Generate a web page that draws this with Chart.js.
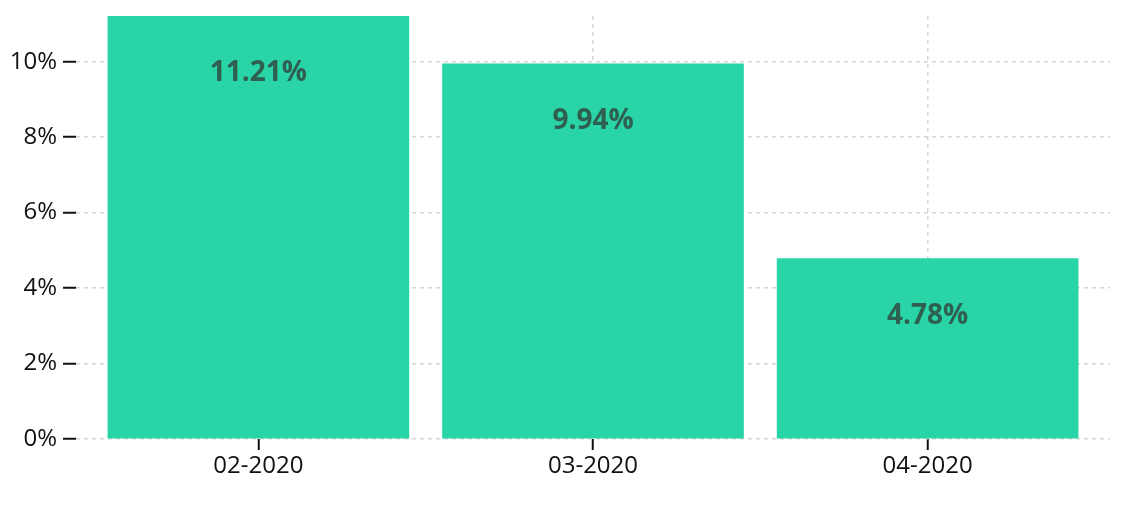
<!DOCTYPE html>
<html>
<head>
<meta charset="utf-8">
<script src="https://cdn.jsdelivr.net/npm/chart.js@4.4.1/dist/chart.umd.min.js"></script>
<style>
  html, body { margin: 0; padding: 0; background: #fff; }
  #wrap { width: 1138px; height: 520px; }
</style>
</head>
<body>
<div id="wrap"><canvas id="growthChart" width="1138" height="520"></canvas></div>
<script>
// data
const categories = ["02-2020", "03-2020", "04-2020"];
const values = [11.21, 9.94, 4.78];
const yTicks = [0, 2, 4, 6, 8, 10];

const BAR_COLOR = "#29d4a6";
const LABEL_COLOR = "#2f5f51";
const GRID_COLOR = "#d6d6d6";

// values printed inside each bar, a bit below its top
const barLabels = {
  id: "barLabels",
  afterDatasetsDraw(chart) {
    const ctx = chart.ctx;
    const meta = chart.getDatasetMeta(0);
    ctx.save();
    ctx.font = "bold 28px 'Open Sans'";
    ctx.fillStyle = LABEL_COLOR;
    ctx.textAlign = "center";
    ctx.textBaseline = "middle";
    meta.data.forEach((bar, i) => {
      ctx.fillText(values[i].toFixed(2) + "%", bar.x, bar.y + 57);
    });
    ctx.restore();
  }
};

const ctx = document.getElementById("growthChart").getContext("2d");
new Chart(ctx, {
  type: "bar",
  data: {
    datasets: [{
      data: values.map((v, i) => ({ x: i, y: v })),
      backgroundColor: BAR_COLOR,
      barThickness: 301,
      borderWidth: 0
    }]
  },
  options: {
    responsive: false,
    animation: false,
    layout: { padding: { top: 16, right: 28, left: 0, bottom: 0 } },
    plugins: { legend: { display: false }, tooltip: { enabled: false } },
    scales: {
      x: {
        type: "linear",
        offset: false,
        min: -0.545,
        max: 2.545,
        afterBuildTicks: axis => { axis.ticks = categories.map((c, i) => ({ value: i })); },
        afterFit: axis => { axis.height = 81; axis.paddingLeft = 0; axis.paddingRight = 0; },
        ticks: {
          callback: v => categories[v],
          color: "#111",
          font: { family: "'Open Sans'", size: 24 },
          padding: 2
        },
        grid: {
          color: GRID_COLOR,
          lineWidth: 1.5,
          tickColor: "#111",
          tickLength: 11,
          tickWidth: 2,
          tickBorderDash: [],
          offset: false
        },
        border: { display: false, dash: [4, 4] }
      },
      y: {
        min: 0,
        max: 11.21,
        afterBuildTicks: axis => { axis.ticks = yTicks.map(v => ({ value: v })); },
        afterFit: axis => { axis.width = 76; axis.paddingTop = 0; axis.paddingBottom = 0; },
        ticks: {
          callback: v => v + "%",
          color: "#111",
          font: { family: "'Open Sans'", size: 24 },
          padding: 6
        },
        grid: {
          color: GRID_COLOR,
          lineWidth: 1.5,
          tickColor: "#111",
          tickLength: 13,
          tickWidth: 2,
          tickBorderDash: []
        },
        border: { display: false, dash: [4, 4] }
      }
    }
  },
  plugins: [barLabels]
});
</script>
</body>
</html>
